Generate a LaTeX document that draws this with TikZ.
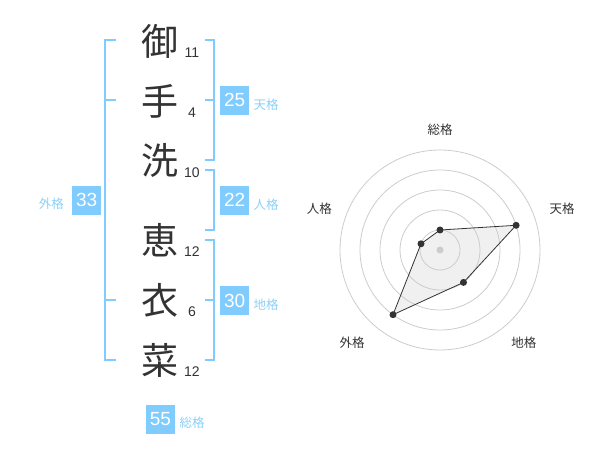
\documentclass[tikz,border=0pt]{standalone}
\usepackage{fontspec}
\setmainfont{Liberation Sans}
\newfontfamily\jp{Noto Sans CJK JP}
\definecolor{kblue}{HTML}{80CCFF}
\definecolor{lblue}{HTML}{8CD0F8}
\definecolor{ink}{HTML}{333333}
\definecolor{ring}{HTML}{CCCCCC}
\definecolor{area}{HTML}{F0F0F0}
\tikzset{
  kanji/.style={font=\jp\fontsize{37}{37}\selectfont, text=ink, inner sep=0pt},
  stroke/.style={font=\fontsize{14}{14}\selectfont, text=ink, inner sep=0pt},
  bracket/.style={draw=kblue, line width=2pt},
  valbox/.style={fill=kblue, text=white, minimum size=29pt, inner sep=0pt, font=\fontsize{19}{19}\selectfont},
  kaku/.style={text=lblue, inner sep=0pt, font=\jp\fontsize{12.5}{12.5}\selectfont},
  axislabel/.style={text=ink, inner sep=0pt, font=\jp\fontsize{12.5}{12.5}\selectfont},
  ringline/.style={draw=ring, line width=0.8pt},
  vertex/.style={circle, fill=ink, minimum size=7pt, inner sep=0pt},
  polyfill/.style={fill=area},
  polyline/.style={draw=ink, line width=0.8pt},
}
\begin{document}
\begin{tikzpicture}[x=1pt, y=-1pt]
\useasboundingbox (0,0) rectangle (600,470);
% characters
\node[kanji] (c1) at (160,41) {御};
\node[kanji] (c2) at (160,101) {手};
\node[kanji] (c3) at (160,160) {洗};
\node[kanji] (c4) at (160,240) {恵};
\node[kanji] (c5) at (160,300) {衣};
\node[kanji] (c6) at (160,360) {菜};
% stroke counts
\node[stroke] (n1) at (192,53) {11};
\node[stroke] (n2) at (192,113) {4};
\node[stroke] (n3) at (192,173) {10};
\node[stroke] (n4) at (192,252) {12};
\node[stroke] (n5) at (192,312) {6};
\node[stroke] (n6) at (192,372) {12};
% brackets
\draw[bracket] (116,40) -- (105,40) -- (105,360) -- (116,360);
\draw[bracket] (105,100) -- (116,100);
\draw[bracket] (105,300) -- (116,300);
\draw[bracket] (205,40) -- (214,40) -- (214,160) -- (205,160);
\draw[bracket] (205,100) -- (214,100);
\draw[bracket] (205,170) -- (214,170) -- (214,230) -- (205,230);
\draw[bracket] (205,240) -- (214,240) -- (214,360) -- (205,360);
\draw[bracket] (205,300) -- (214,300);
% value boxes
\node[valbox] (ten) at (234.7,100.3) {25};
\node[kaku, anchor=west] (tenl) at (253.5,104.5) {天格};
\node[valbox] (jin) at (234.7,200.3) {22};
\node[kaku, anchor=west] (jinl) at (253.5,204.5) {人格};
\node[valbox] (chi) at (234.7,300.5) {30};
\node[kaku, anchor=west] (chil) at (253.5,304.5) {地格};
\node[valbox] (gai) at (86.7,200.3) {33};
\node[kaku, anchor=east] (gail) at (64,203.5) {外格};
\node[valbox] (sou) at (160.5,419.5) {55};
\node[kaku, anchor=west] (soul) at (179.5,423) {総格};
% radar
\coordinate (rc) at (440,250);
\coordinate (v1) at (440,230);
\coordinate (v2) at (516.1,225.3);
\coordinate (v3) at (463.5,282.4);
\coordinate (v4) at (393.0,314.7);
\coordinate (v5) at (421.0,243.8);
\fill[polyfill] (v1) -- (v2) -- (v3) -- (v4) -- (v5) -- cycle;
\foreach \r in {20,40,60,80,100} \draw[ringline] (rc) circle (\r);
\fill[ring] (rc) circle (3.5);
\draw[polyline] (v1) -- (v2) -- (v3) -- (v4) -- (v5) -- cycle;
\foreach \v in {v1,v2,v3,v4,v5} \node[vertex] at (\v) {};
\node[axislabel] (a1) at (440,130) {総格};
\node[axislabel] (a2) at (562,208.5) {天格};
\node[axislabel] (a3) at (523.8,342.5) {地格};
\node[axislabel] (a4) at (352,342.5) {外格};
\node[axislabel] (a5) at (319.3,208.5) {人格};
\end{tikzpicture}
\end{document}
